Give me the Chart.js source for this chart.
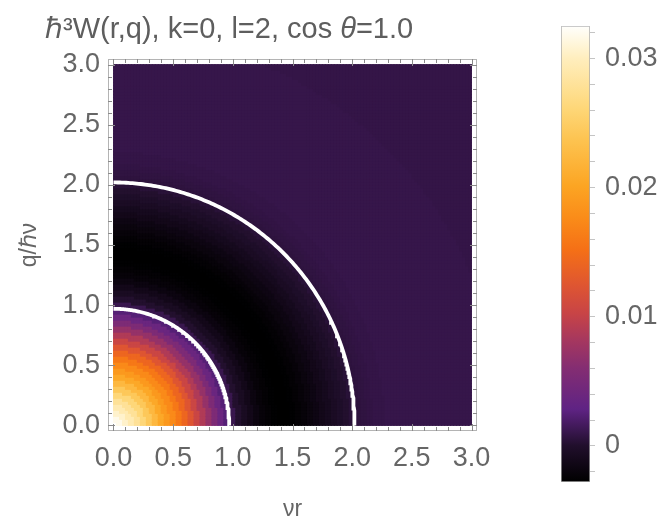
<!DOCTYPE html>
<html><head><meta charset="utf-8">
<script src="https://cdn.jsdelivr.net/npm/chart.js@4/dist/chart.umd.min.js"></script>
<style>
html,body{margin:0;padding:0;background:#fff;}
#wrap{position:relative;width:671px;height:522px;overflow:hidden;}
#main{position:absolute;left:0;top:0;}
#cbar{position:absolute;left:540px;top:0;}
</style></head><body>
<div id="wrap">
<canvas id="main" width="540" height="522"></canvas>
<canvas id="cbar" width="131" height="522"></canvas>
</div>
<script>
// ---------- data ----------
const titleParts = ['ℏ³W(r,q), k=0, l=2, cos ', 'θ', '=1.0'];
const xTitle = 'νr';
const yTitle = 'q/ℏν';
const xTicks = [0, 0.5, 1, 1.5, 2, 2.5, 3];
const yTicks = [0, 0.5, 1, 1.5, 2, 2.5, 3];
// radial profile of W (radius sqrt(νr² + (q/ℏν)²) -> value)
const profileRadius = [0,0.05,0.1,0.15,0.2,0.25,0.3,0.35,0.4,0.45,0.5,0.55,0.6,0.65,0.7,0.75,0.8,0.85,0.9,0.95,
  1.0,1.05,1.1,1.15,1.2,1.25,1.3,1.35,1.4,1.45,1.5,1.55,1.6,1.65,1.7,1.75,1.8,1.85,1.9,1.95,
  2.0,2.05,2.1,2.15,2.2,2.25,2.3,2.35,2.4,2.45,2.5,2.75,3.0,3.5,4.0,4.3];
const profileW = [0.0325,0.0318,0.0306,0.0293,0.0279,0.0262,0.0243,0.0224,0.0205,0.0190,0.0175,0.0159,0.0142,0.0124,0.0105,0.0088,0.0071,0.0054,0.0038,0.0024,
  0.0011,0.0001,-0.0006,-0.0012,-0.0018,-0.0022,-0.0025,-0.0027,-0.0028,-0.0028,-0.0027,-0.0025,-0.0022,-0.0019,-0.0016,-0.0012,-0.0009,-0.0005,-0.0002,0.0001,
  0.0004,0.0006,0.0007,0.0008,0.0009,0.0009,0.0010,0.0010,0.0010,0.0010,0.0010,0.0010,0.0010,0.0009,0.0009,0.0009];
const contourRadii = [0.97, 2.02];
const colorbarTicks = [0, 0.01, 0.02, 0.03];
const colorbarMin = -0.0028;
const colorbarMax = 0.0325;

// ---------- colour map (sunset-like) ----------
const cmapStops = [
  [0.00,[0,0,0]],[0.08,[33,15,44]],[0.16,[95,35,132]],[0.25,[132,45,114]],[0.31,[165,55,95]],
  [0.37,[200,68,70]],[0.43,[222,85,50]],[0.51,[245,112,22]],[0.58,[250,140,25]],[0.65,[252,165,35]],
  [0.75,[253,195,80]],[0.82,[254,215,120]],[0.93,[255,238,190]],[1.00,[255,255,252]]];
function cmap(f){
  f=Math.max(0,Math.min(1,f));
  for(let i=1;i<cmapStops.length;i++){
    const [f1,c1]=cmapStops[i];
    if(f<=f1){const [f0,c0]=cmapStops[i-1];const t=(f-f0)/(f1-f0);
      return 'rgb('+c0.map((c,k)=>Math.round(c+(c1[k]-c)*t)).join(',')+')';}
  }
  return 'rgb(255,255,252)';
}
function colorOf(v){return cmap((v-colorbarMin)/(colorbarMax-colorbarMin));}

// ---------- heat-map cells ----------
const cell = 0.025, nCell = 120;
const heatPoints = [], heatColors = [];
for(let i=0;i<nCell;i++){for(let j=0;j<nCell;j++){
  const x=(i+0.5)*cell, y=(j+0.5)*cell, r=Math.hypot(x,y);
  let k=0,best=Infinity;
  for(let m=0;m<profileRadius.length;m++){const d=Math.abs(profileRadius[m]-r);if(d<best){best=d;k=m;}}
  heatPoints.push({x:x,y:y}); heatColors.push(colorOf(profileW[k]));
}}
const contourSets = contourRadii.map(R=>({
  type:'scatter', showLine:true, pointRadius:0, pointHoverRadius:0, borderColor:'#ffffff', borderWidth:3.8, fill:false, order:0,
  data:Array.from({length:181},(_,a)=>({x:R*Math.cos(a*Math.PI/360), y:R*Math.sin(a*Math.PI/360)}))
}));

const FONT='"Liberation Sans", Arial, sans-serif';
const framePlugin={id:'frame',afterDraw(chart){
  const {ctx,chartArea:a,scales:{x,y}}=chart;
  ctx.save();
  ctx.strokeStyle='#b4b4b4';ctx.lineWidth=1;
  ctx.strokeRect(a.left+0.5,a.top+0.5,a.right-a.left-1,a.bottom-a.top-1);
  ctx.strokeStyle='#8a8a8a';
  const ln=(x1,y1,x2,y2)=>{ctx.beginPath();ctx.moveTo(x1,y1);ctx.lineTo(x2,y2);ctx.stroke();};
  for(let t=0;t<=30;t++){
    const v=t/10, L=(t%5===0)?7:4;
    const px=Math.round(x.getPixelForValue(v))+0.5;
    ln(px,a.bottom,px,a.bottom-L); ln(px,a.top,px,a.top+L);
    const py=Math.round(y.getPixelForValue(v))+0.5;
    ln(a.left,py,a.left+L,py); ln(a.right,py,a.right-L,py);
  }
  // title (θ in italic)
  ctx.fillStyle='#5e5e5e';ctx.textBaseline='alphabetic';ctx.textAlign='left';
  let tx=45;
  titleParts.forEach((p,i)=>{
    ctx.font=(i===1?'italic ':'')+'29px '+FONT;
    ctx.fillText(p,tx,38); tx+=ctx.measureText(p).width;
  });
  ctx.restore();
}};

new Chart(document.getElementById('main'),{
  type:'scatter',
  data:{datasets:[
    ...contourSets,
    {data:heatPoints,pointStyle:'rect',backgroundColor:heatColors,borderWidth:0,order:1,
     pointRadius:(c)=>{const s=c.chart.scales.x,t=c.chart.scales.y;
       const w=Math.max(Math.abs(s.getPixelForValue(cell)-s.getPixelForValue(0)),Math.abs(t.getPixelForValue(cell)-t.getPixelForValue(0)));
       return (w+0.9)/Math.SQRT2;},
     pointHoverRadius:0}
  ]},
  options:{
    responsive:false,animation:false,events:[],
    layout:{padding:{top:59,right:63,left:0,bottom:0}},
    plugins:{legend:{display:false},tooltip:{enabled:false},title:{display:false}},
    scales:{
      x:{type:'linear',min:-0.046,max:3.046,position:'bottom',
        afterBuildTicks:s=>{s.ticks=xTicks.map(v=>({value:v}));},
        afterFit:s=>{s.height=91;},
        grid:{display:false,drawTicks:false},border:{display:false},
        ticks:{padding:11,autoSkip:false,maxRotation:0,color:'#666',font:{size:27,family:FONT},callback:v=>Number(v).toFixed(1)},
        title:{display:true,text:xTitle,color:'#666',font:{size:23,family:FONT,lineHeight:1.1},padding:0}},
      y:{type:'linear',min:-0.046,max:3.046,position:'left',
        afterBuildTicks:s=>{s.ticks=yTicks.map(v=>({value:v}));},
        afterFit:s=>{s.width=108;},
        grid:{display:false,drawTicks:false},border:{display:false},
        ticks:{padding:8,autoSkip:false,color:'#666',font:{size:27,family:FONT},callback:v=>Number(v).toFixed(1)},
        title:{display:true,text:yTitle,color:'#666',font:{size:23,family:FONT,lineHeight:1.1},padding:{top:17,bottom:0}}}
    }
  },
  plugins:[framePlugin]
});

// ---------- colour bar ----------
const cbSteps=[];for(let k=-1;k<=16;k++)cbSteps.push(k);
new Chart(document.getElementById('cbar'),{
  type:'bar',
  data:{labels:[''],datasets:[{data:[[colorbarMin,colorbarMax]],
    backgroundColor:(c)=>{const a=c.chart.chartArea;if(!a)return '#000';
      const g=c.chart.ctx.createLinearGradient(0,a.bottom,0,a.top);
      cmapStops.forEach(s=>g.addColorStop(s[0],'rgb('+s[1].join(',')+')'));return g;},
    borderColor:'#a8a8a8',borderWidth:1,borderSkipped:false,barPercentage:1,categoryPercentage:1}]},
  options:{
    responsive:false,animation:false,events:[],
    layout:{padding:{left:21,top:18,bottom:40,right:0}},
    plugins:{legend:{display:false},tooltip:{enabled:false}},
    scales:{
      x:{display:false},
      y:{position:'right',min:colorbarMin,max:colorbarMax,
        afterBuildTicks:s=>{s.ticks=cbSteps.map(k=>({value:k*0.002}));},
        afterFit:s=>{s.width=81;},
        grid:{drawOnChartArea:false,drawTicks:true,tickLength:5,tickColor:'#c4c4c4'},
        border:{display:false},
        ticks:{padding:10,autoSkip:false,color:'#666',font:{size:27,family:FONT},
          callback:(v)=>{const k=Math.round(v/0.002);if(k%5!==0)return '';
            const val=colorbarTicks.find(t=>Math.abs(t-v)<1e-9);return val===undefined?'':(val===0?'0':val.toFixed(2));}}}
    }
  }
});
</script>
</body></html>
